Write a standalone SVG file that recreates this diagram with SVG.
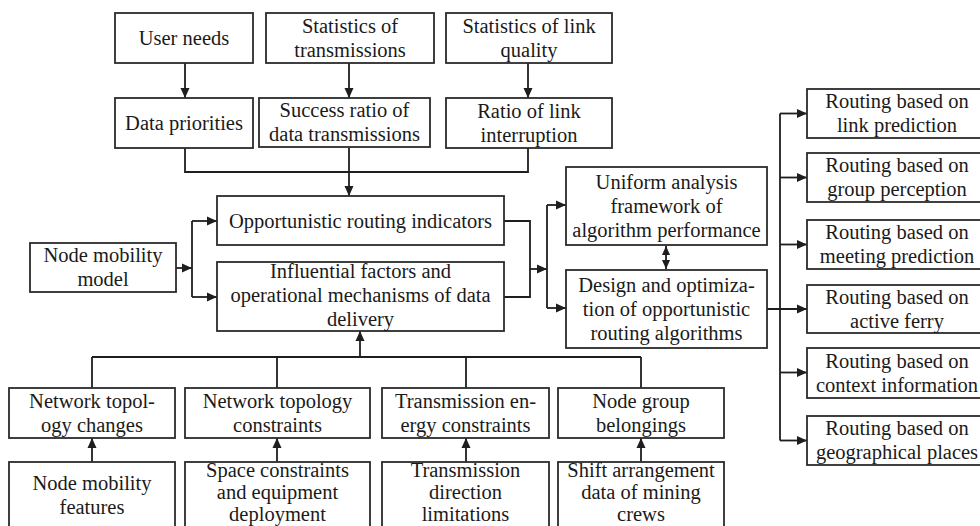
<svg xmlns="http://www.w3.org/2000/svg" width="980" height="526" viewBox="0 0 980 526">
  <style>
    .box { fill: #ffffff; stroke: #2b2b2b; stroke-width: 1.8; }
    .t { font-family: "Liberation Serif", "Times New Roman", serif; font-size: 20.5px; fill: #1a1a1a; text-anchor: middle; }
    .c { fill: none; stroke: #1e1e1e; stroke-width: 1.8; }
    .a { marker-end: url(#head); }
  </style>
  <defs>
    <marker id="head" viewBox="0 0 10 10" refX="10" refY="5" markerWidth="10" markerHeight="10" markerUnits="userSpaceOnUse" orient="auto">
      <path d="M0,0.5 L10,5 L0,9.5 z" fill="#1e1e1e"/>
    </marker>
    <marker id="headStart" viewBox="0 0 10 10" refX="10" refY="5" markerWidth="9" markerHeight="9" markerUnits="userSpaceOnUse" orient="auto-start-reverse">
      <path d="M0,0.5 L10,5 L0,9.5 z" fill="#1e1e1e"/>
    </marker>
  </defs>
  <rect width="980" height="526" fill="#ffffff"/>

  <!-- connectors -->
  <g id="connectors">
    <!-- top sources to second row -->
    <path class="c a" d="M185,63 V98"/>
    <path class="c a" d="M349,63 V98"/>
    <path class="c a" d="M528,63 V98"/>
    <!-- merge of the second row into the indicators -->
    <path class="c" d="M185,148 V172 H528 V148"/>
    <path class="c a" d="M349,148 V196"/>
    <!-- node mobility model branch -->
    <path class="c a" d="M176,268 H192"/>
    <path class="c" d="M192,221 V297"/>
    <path class="c a" d="M192,221 H217"/>
    <path class="c a" d="M192,297 H217"/>
    <!-- indicators and factors towards framework / design -->
    <path class="c" d="M504,221 H530 V297 H504"/>
    <path class="c a" d="M530,269 H547"/>
    <path class="c" d="M547,205 V308"/>
    <path class="c a" d="M547,205 H566"/>
    <path class="c a" d="M547,308 H566"/>
    <!-- framework <-> design -->
    <path class="c" d="M666,246 V269" marker-start="url(#headStart)" marker-end="url(#headStart)"/>
    <!-- design to routing families -->
    <path class="c" d="M780,113.5 V440.5"/>
    <path class="c a" d="M767,309 H807"/>
    <path class="c a" d="M780,113.5 H807"/>
    <path class="c a" d="M780,177.5 H807"/>
    <path class="c a" d="M780,244.5 H807"/>
    <path class="c a" d="M780,372.5 H807"/>
    <path class="c a" d="M780,440.5 H807"/>
    <!-- bottom factors to influential factors -->
    <path class="c" d="M92,357 H641"/>
    <path class="c a" d="M360,357 V331"/>
    <path class="c" d="M92,357 V388"/>
    <path class="c" d="M277,357 V388"/>
    <path class="c" d="M466,357 V388"/>
    <path class="c" d="M641,357 V388"/>
    <path class="c a" d="M92,462 V438"/>
    <path class="c a" d="M277,462 V438"/>
    <path class="c a" d="M466,462 V438"/>
    <path class="c a" d="M641,462 V438"/>
  </g>

  <!-- top row -->
  <g id="user-needs">
    <rect class="box" x="115" y="13" width="138" height="50"/>
    <text class="t" x="184" y="45">User needs</text>
  </g>
  <g id="stats-transmissions">
    <rect class="box" x="266" y="13" width="168" height="50"/>
    <text class="t" x="350" y="33">Statistics of<tspan x="350" dy="24">transmissions</tspan></text>
  </g>
  <g id="stats-link-quality">
    <rect class="box" x="446" y="13" width="166" height="50"/>
    <text class="t" x="529" y="33">Statistics of link<tspan x="529" dy="24">quality</tspan></text>
  </g>

  <!-- second row -->
  <g id="data-priorities">
    <rect class="box" x="115" y="98" width="138" height="50"/>
    <text class="t" x="184" y="130">Data priorities</text>
  </g>
  <g id="success-ratio">
    <rect class="box" x="259" y="98" width="171" height="49"/>
    <text class="t" x="344.5" y="117">Success ratio of<tspan x="344.5" dy="24">data transmissions</tspan></text>
  </g>
  <g id="link-interruption">
    <rect class="box" x="446" y="98" width="166" height="50"/>
    <text class="t" x="529" y="117.5">Ratio of link<tspan x="529" dy="24">interruption</tspan></text>
  </g>

  <!-- middle -->
  <g id="node-mobility-model">
    <rect class="box" x="30" y="243" width="146" height="49"/>
    <text class="t" x="103" y="262">Node mobility<tspan x="103" dy="24">model</tspan></text>
  </g>
  <g id="routing-indicators">
    <rect class="box" x="217" y="196" width="287" height="49"/>
    <text class="t" x="360.5" y="227.5">Opportunistic routing indicators</text>
  </g>
  <g id="influential-factors">
    <rect class="box" x="217" y="262" width="287" height="69"/>
    <text class="t" x="360.5" y="278">Influential factors and<tspan x="360.5" dy="24">operational mechanisms of data</tspan><tspan x="360.5" dy="24">delivery</tspan></text>
  </g>
  <g id="analysis-framework">
    <rect class="box" x="566" y="167" width="201" height="78"/>
    <text class="t" x="666.5" y="188.5">Uniform analysis<tspan x="666.5" dy="24">framework of</tspan><tspan x="666.5" dy="24">algorithm performance</tspan></text>
  </g>
  <g id="algorithm-design">
    <rect class="box" x="566" y="270" width="201" height="78"/>
    <text class="t" x="666.5" y="292">Design and optimiza-<tspan x="666.5" dy="24">tion of opportunistic</tspan><tspan x="666.5" dy="24">routing algorithms</tspan></text>
  </g>

  <!-- routing families -->
  <g id="routing-link-prediction">
    <rect class="box" x="807" y="89" width="181" height="49"/>
    <text class="t" x="897" y="108">Routing based on<tspan x="897" dy="24">link prediction</tspan></text>
  </g>
  <g id="routing-group-perception">
    <rect class="box" x="807" y="153" width="181" height="49"/>
    <text class="t" x="897" y="172">Routing based on<tspan x="897" dy="24">group perception</tspan></text>
  </g>
  <g id="routing-meeting-prediction">
    <rect class="box" x="807" y="220" width="181" height="49"/>
    <text class="t" x="897" y="239">Routing based on<tspan x="897" dy="24">meeting prediction</tspan></text>
  </g>
  <g id="routing-active-ferry">
    <rect class="box" x="807" y="285" width="181" height="48"/>
    <text class="t" x="897" y="303.5">Routing based on<tspan x="897" dy="24">active ferry</tspan></text>
  </g>
  <g id="routing-context">
    <rect class="box" x="807" y="348" width="181" height="50"/>
    <text class="t" x="897" y="367.5">Routing based on<tspan x="897" dy="24">context information</tspan></text>
  </g>
  <g id="routing-geography">
    <rect class="box" x="807" y="416" width="181" height="49"/>
    <text class="t" x="897" y="435">Routing based on<tspan x="897" dy="24">geographical places</tspan></text>
  </g>

  <!-- lower factor row -->
  <g id="topology-changes">
    <rect class="box" x="9" y="388" width="166" height="50"/>
    <text class="t" x="92" y="407.5">Network topol-<tspan x="92" dy="24">ogy changes</tspan></text>
  </g>
  <g id="topology-constraints">
    <rect class="box" x="185" y="388" width="185" height="50"/>
    <text class="t" x="277.5" y="407.5">Network topology<tspan x="277.5" dy="24">constraints</tspan></text>
  </g>
  <g id="energy-constraints">
    <rect class="box" x="382" y="388" width="167" height="50"/>
    <text class="t" x="465.5" y="407.5">Transmission en-<tspan x="465.5" dy="24">ergy constraints</tspan></text>
  </g>
  <g id="group-belongings">
    <rect class="box" x="558" y="388" width="166" height="50"/>
    <text class="t" x="641" y="407.5">Node group<tspan x="641" dy="24">belongings</tspan></text>
  </g>

  <!-- underlying data row (boxes run past the lower edge) -->
  <g id="mobility-features">
    <rect class="box" x="9" y="462" width="166" height="80"/>
    <text class="t" x="92" y="490">Node mobility<tspan x="92" dy="24">features</tspan></text>
  </g>
  <g id="space-constraints">
    <rect class="box" x="185" y="462" width="185" height="80"/>
    <text class="t" x="277.5" y="477">Space constraints<tspan x="277.5" dy="22">and equipment</tspan><tspan x="277.5" dy="22">deployment</tspan></text>
  </g>
  <g id="direction-limitations">
    <rect class="box" x="382" y="462" width="167" height="80"/>
    <text class="t" x="465.5" y="477">Transmission<tspan x="465.5" dy="22">direction</tspan><tspan x="465.5" dy="22">limitations</tspan></text>
  </g>
  <g id="shift-arrangement">
    <rect class="box" x="558" y="462" width="166" height="80"/>
    <text class="t" x="641" y="477">Shift arrangement<tspan x="641" dy="22">data of mining</tspan><tspan x="641" dy="22">crews</tspan></text>
  </g>
</svg>
